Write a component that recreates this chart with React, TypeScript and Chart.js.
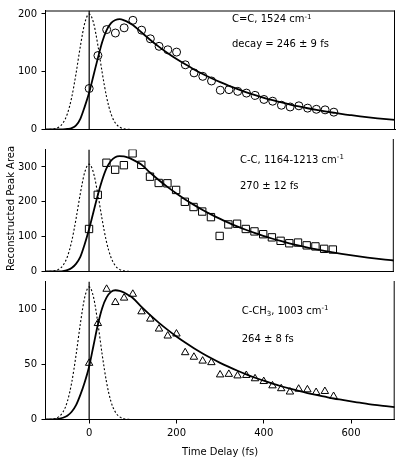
import React, { useEffect, useRef } from 'react';
import { Chart, registerables } from 'chart.js';

Chart.register(...registerables);

const FONT = 'DejaVu Sans';

// Measured delays (fs)
const delays = [0, 20, 40, 60, 80, 100, 120, 140, 160, 180, 200, 220, 240, 260, 280, 300, 320, 340, 360, 380, 400, 420, 440, 460, 480, 500, 520, 540, 560];

// Reconstructed peak areas
const ccDoubleArea = [71, 128, 173, 167, 176, 189, 172, 157, 144, 138, 134, 112, 98, 92, 84, 68, 69, 66, 63, 59, 52, 49, 42, 39, 41, 37, 35, 34, 30];
const ccSingleArea = [122, 220, 312, 292, 305, 339, 306, 272, 254, 253, 234, 200, 185, 172, 156, 102, 135, 137, 122, 115, 107, 98, 88, 81, 83, 75, 72, 65, 63];
const cch3Area = [51, 87, 118, 106, 110, 113.5, 97.6, 91, 82, 75.7, 77.5, 60.6, 56.5, 53, 51.6, 40.5, 41, 39.6, 40, 37, 34.5, 30.6, 28, 25, 27.6, 27, 24.6, 25.5, 21];

// Fitted curves
const fitTimes = [-100, -90, -80, -70, -60, -50, -40, -30, -20, -10, 0, 10, 20, 30, 40, 50, 60, 70, 80, 90, 100, 120, 140, 160, 180, 200, 220, 240, 260, 280, 300, 320, 340, 360, 380, 400, 420, 440, 460, 480, 500, 520, 540, 560, 580, 600, 620, 640, 660, 680, 700];
const ccDoubleFit = [0, 0, 0, 0.1, 0.3, 1, 2.5, 7, 19, 40, 64, 94, 124, 152, 172, 184, 189.5, 191, 189, 185.5, 181, 168, 155, 143, 132, 122, 112.8, 104, 96, 88.7, 81.9, 75.6, 69.8, 64.4, 59.5, 54.9, 50.7, 46.8, 43.2, 39.9, 36.8, 34, 31.4, 29, 26.7, 24.7, 22.8, 21, 19.4, 17.9, 16.5];
const ccSingleFit = [0, 0, 0, 0.3, 1.2, 4, 10, 22, 42, 78, 121, 170, 219, 262, 296, 317, 328, 331, 330, 326.5, 321, 307, 283.9, 262.4, 242.7, 224.4, 207.4, 191.8, 177.3, 164, 151.6, 140.2, 129.6, 119.8, 110.8, 102.4, 94.7, 87.6, 81, 74.9, 69.2, 64, 59.2, 54.7, 50.6, 46.8, 43.3, 40, 37, 34.2, 31.6];
const cch3Fit = [0, 0, 0.2, 0.6, 1.6, 3.5, 7, 13, 22.5, 34, 48, 67, 86, 101, 110.5, 115.5, 117, 116.5, 115, 112.5, 110, 101.9, 94.4, 87.5, 81.1, 75.1, 69.6, 64.5, 59.8, 55.4, 51.3, 47.6, 44.1, 40.8, 37.8, 35.1, 32.5, 30.1, 27.9, 25.8, 23.9, 22.2, 20.6, 19, 17.7, 16.4, 15.2, 14, 13, 12.1, 11.2];

// Instrument response (dashed)
const irfTimes = [-100, -90, -80, -70, -60, -50, -40, -30, -20, -10, 0, 10, 20, 30, 40, 50, 60, 70, 80, 90, 100];
const ccDoubleIrf = [0, 0.3, 1.2, 4, 11.2, 27, 55.6, 97.4, 145.2, 184.6, 200, 184.6, 145.2, 97.4, 55.6, 27, 11.2, 4, 1.2, 0.3, 0];
const ccSingleIrf = [0, 0.5, 1.8, 6.1, 17.2, 41.6, 85.6, 150, 223.6, 284.3, 308, 284.3, 223.6, 150, 85.6, 41.6, 17.2, 6.1, 1.8, 0.5, 0];
const cch3Irf = [0, 0.2, 0.7, 2.4, 6.7, 16.2, 33.4, 58.4, 87.1, 110.8, 120, 110.8, 87.1, 58.4, 33.4, 16.2, 6.7, 2.4, 0.7, 0.2, 0];

// Axes
const xMin = -100;
const xMax = 700;
const xTickValues = [0, 200, 400, 600];
const yMaxes = [206, 350, 125];
const yTicksDouble = [0, 100, 200];
const yTicksSingle = [0, 100, 200, 300];
const yTicksCH3 = [0, 50, 100];

const pts = (xs: number[], ys: number[]) => xs.map((x, i) => ({ x, y: ys[i] }));

const framePlugin = {
  id: 'frame',
  afterDatasetsDraw(chart: any, _args: any, opts: any) {
    const { ctx, chartArea: a } = chart;
    ctx.save();
    ctx.strokeStyle = '#000';
    ctx.lineWidth = 1;
    ctx.beginPath();
    const top = opts.rightFrom != null ? opts.rightFrom : a.top;
    ctx.moveTo(a.right - 0.5, top);
    ctx.lineTo(a.right - 0.5, a.bottom);
    if (opts.topBorder) {
      ctx.moveTo(a.left, a.top + 0.5);
      ctx.lineTo(a.right, a.top + 0.5);
    }
    ctx.stroke();
    ctx.restore();
  },
};

const notesPlugin = {
  id: 'notes',
  afterDraw(chart: any, _args: any, opts: any) {
    const ctx = chart.ctx;
    ctx.save();
    ctx.fillStyle = '#000';
    ctx.textBaseline = 'middle';
    ctx.textAlign = 'left';
    for (const n of opts.items || []) {
      let cx = n.x;
      for (const s of n.segs) {
        ctx.font = `${s.size || 10}px "${FONT}"`;
        ctx.fillText(s.t, cx, n.y + (s.dy || 0));
        cx += ctx.measureText(s.t).width;
      }
    }
    if (opts.yTitle) {
      ctx.translate(opts.yTitle.x, opts.yTitle.y);
      ctx.rotate(-Math.PI / 2);
      ctx.textAlign = 'center';
      ctx.font = `10px "${FONT}"`;
      ctx.fillText(opts.yTitle.text, 0, 0);
    }
    ctx.restore();
  },
};

type PanelCfg = {
  padTop: number;
  xHeight: number;
  yMax: number;
  yTicks: number[];
  marks: number[];
  fit: number[];
  irf: number[];
  pointStyle: string;
  radius: number;
  bottom: boolean;
  topBorder: boolean;
  rightFrom: number | null;
  notes: any[];
  yTitle?: any;
};

function makeChart(canvas: HTMLCanvasElement, p: PanelCfg) {
  return new Chart(canvas, {
    type: 'scatter',
    data: {
      datasets: [
        {
          data: pts(delays, p.marks),
          showLine: false,
          pointStyle: p.pointStyle as any,
          pointRadius: p.radius,
          pointBorderWidth: 1,
          pointBorderColor: '#000',
          pointBackgroundColor: 'rgba(0,0,0,0)',
        },
        {
          data: pts(fitTimes, p.fit),
          showLine: true,
          pointRadius: 0,
          borderColor: '#000',
          borderWidth: 1.8,
          cubicInterpolationMode: 'monotone',
        },
        {
          data: pts(irfTimes, p.irf),
          showLine: true,
          pointRadius: 0,
          borderColor: '#000',
          borderWidth: 1.1,
          borderDash: [2, 2],
          cubicInterpolationMode: 'monotone',
        },
        {
          data: [{ x: 0, y: 0 }, { x: 0, y: p.yMax }],
          showLine: true,
          pointRadius: 0,
          borderColor: '#000',
          borderWidth: 1.2,
          tension: 0,
        },
      ] as any,
    },
    options: {
      responsive: false,
      animation: false,
      devicePixelRatio: 1,
      layout: { padding: { top: p.padTop, right: 1, left: 0, bottom: 0 } },
      plugins: {
        legend: { display: false },
        tooltip: { enabled: false },
        frame: { topBorder: p.topBorder, rightFrom: p.rightFrom },
        notes: { items: p.notes, yTitle: p.yTitle },
      } as any,
      scales: {
        x: {
          type: 'linear',
          min: xMin,
          max: xMax,
          afterBuildTicks: (s: any) => {
            s.ticks = xTickValues.map((v) => ({ value: v }));
          },
          afterFit: (s: any) => {
            s.height = p.xHeight;
          },
          border: { display: true, color: '#000', width: 1 },
          grid: {
            display: true,
            drawOnChartArea: false,
            drawTicks: p.bottom,
            tickLength: 4,
            color: '#000',
          },
          ticks: {
            display: p.bottom,
            padding: 4,
            maxRotation: 0,
            autoSkip: false,
            color: '#000',
            font: { family: FONT, size: 10 },
          },
          title: {
            display: p.bottom,
            text: 'Time Delay (fs)',
            color: '#000',
            padding: { top: 0, bottom: 1 },
            font: { family: FONT, size: 10 },
          },
        },
        y: {
          type: 'linear',
          min: 0,
          max: p.yMax,
          afterBuildTicks: (s: any) => {
            s.ticks = p.yTicks.map((v) => ({ value: v }));
          },
          afterFit: (s: any) => {
            s.width = 45.5;
          },
          border: { display: true, color: '#000', width: 1 },
          grid: {
            display: true,
            drawOnChartArea: false,
            drawTicks: true,
            tickLength: 4,
            color: '#000',
          },
          ticks: {
            padding: 4.5,
            autoSkip: false,
            color: '#000',
            font: { family: FONT, size: 10 },
          },
        },
      } as any,
    },
    plugins: [framePlugin as any, notesPlugin as any],
  });
}

export default function App() {
  const c1 = useRef<HTMLCanvasElement>(null);
  const c2 = useRef<HTMLCanvasElement>(null);
  const c3 = useRef<HTMLCanvasElement>(null);

  useEffect(() => {
    const charts = [
      makeChart(c1.current!, {
        padTop: 1,
        xHeight: 1.5,
        yMax: yMaxes[0],
        yTicks: yTicksDouble,
        marks: ccDoubleArea,
        fit: ccDoubleFit,
        irf: ccDoubleIrf,
        pointStyle: 'circle',
        radius: 4,
        bottom: false,
        topBorder: true,
        rightFrom: null,
        notes: [
          { x: 232, y: 19.7, segs: [{ t: 'C=C, 1524 cm' }, { t: '-1', size: 7, dy: -3 }] },
          { x: 232, y: 44, segs: [{ t: 'decay = 246 ± 9 fs' }] },
        ],
      }),
      makeChart(c2.current!, {
        padTop: 7.5,
        xHeight: 1,
        yMax: yMaxes[1],
        yTicks: yTicksSingle,
        marks: ccSingleArea,
        fit: ccSingleFit,
        irf: ccSingleIrf,
        pointStyle: 'rect',
        radius: 5.2,
        bottom: false,
        topBorder: false,
        rightFrom: 0,
        notes: [
          { x: 240, y: 21, segs: [{ t: 'C-C, 1164-1213 cm' }, { t: '-1', size: 7, dy: -3 }] },
          { x: 240, y: 47.5, segs: [{ t: '270 ± 12 fs' }] },
        ],
        yTitle: { x: 11.5, y: 69.5, text: 'Reconstructed Peak Area' },
      }),
      makeChart(c3.current!, {
        padTop: 11.4,
        xHeight: 39.5,
        yMax: yMaxes[2],
        yTicks: yTicksCH3,
        marks: cch3Area,
        fit: cch3Fit,
        irf: cch3Irf,
        pointStyle: 'triangle',
        radius: 4.3,
        bottom: true,
        topBorder: false,
        rightFrom: 11,
        notes: [
          {
            x: 241.7,
            y: 41,
            segs: [{ t: 'C-CH' }, { t: '3', size: 7, dy: 3 }, { t: ', 1003 cm' }, { t: '-1', size: 7, dy: -3 }],
          },
          { x: 241.7, y: 69, segs: [{ t: '264 ± 8 fs' }] },
        ],
      }),
    ];
    return () => charts.forEach((c) => c.destroy());
  }, []);

  return (
    <div style={{ position: 'absolute', left: 0, top: 0, width: 400, height: 459, background: '#fff' }}>
      <canvas ref={c1} width={400} height={140} style={{ position: 'absolute', left: 0, top: 0 }} />
      <canvas ref={c2} width={400} height={143} style={{ position: 'absolute', left: 0, top: 139 }} />
      <canvas ref={c3} width={400} height={189} style={{ position: 'absolute', left: 0, top: 270 }} />
    </div>
  );
}
